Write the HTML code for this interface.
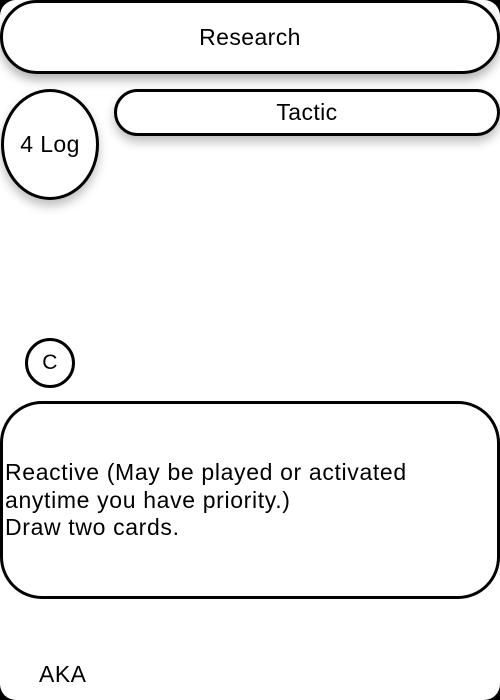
<!DOCTYPE html>
<html><head><style>
html,body{margin:0;padding:0;background:#000;width:500px;height:700px;overflow:hidden;font-family:"Liberation Sans",sans-serif;color:#000}
#card{position:absolute;left:0;top:0;width:500px;height:700px;background:#fff;border-radius:16px;overflow:hidden}
.b{position:absolute;box-sizing:border-box;border:3px solid #000;background:#fff;display:flex;align-items:center;justify-content:center;letter-spacing:0.4px}
</style></head><body>
<div id="card">
<div class="b" style="left:0;top:0;width:500px;height:74px;border-radius:37px;font-size:23px;box-shadow:0 6px 10px rgba(0,0,0,.3)">Research</div>
<div class="b" style="left:114px;top:89px;width:386px;height:47px;border-radius:24px;font-size:23px;box-shadow:0 6px 10px rgba(0,0,0,.25)">Tactic</div>
<div class="b" style="left:1px;top:89px;width:98px;height:111px;border-radius:50%;font-size:23px;box-shadow:0 6px 10px rgba(0,0,0,.25)">4 Log</div>
<div class="b" style="left:25px;top:338px;width:50px;height:50px;border-radius:50%;font-size:21px">C</div>
<div class="b" style="left:0;top:401px;width:500px;height:198px;border-radius:42px"></div>
<div style="position:absolute;left:5px;top:459px;font-size:23px;letter-spacing:0.65px;line-height:27.5px;white-space:nowrap">Reactive (May be played or activated<br>anytime you have priority.)<br>Draw two cards.</div>
<div style="position:absolute;left:39px;top:661px;font-size:23px;letter-spacing:0.5px;line-height:26px">AKA</div>
</div>
</body></html>
